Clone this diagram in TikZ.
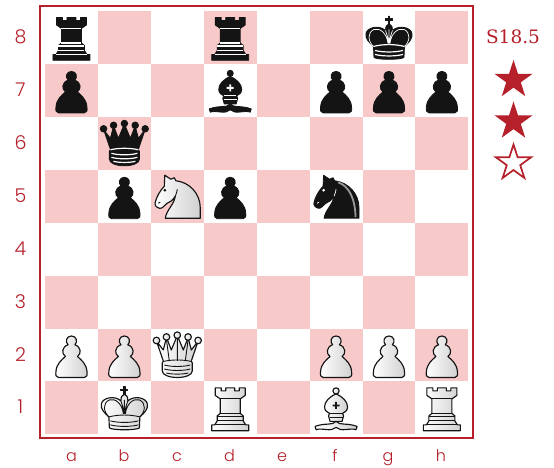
\documentclass[tikz,border=0pt]{standalone}
\usepackage{fontspec}
\usetikzlibrary{shapes.geometric}
\newfontfamily\labfont{Poppins}[UprightFont=* Light]
\newfontfamily\scorefont{DejaVu Serif}
\definecolor{framered}{HTML}{B5202A}
\definecolor{pinksq}{HTML}{F8C9C9}
\definecolor{ink}{HTML}{141414}
\tikzset{
  blackset/.style={
    pbody/.style={fill=ink,draw=ink,line width=.8pt,line join=round},
    pdetail/.style={draw=white,line width=1.2pt,line cap=butt},
    pinner/.style={draw=white,line width=.7pt},
    pqline/.style={draw=none},
    pmark/.style={fill=white},
    psheen/.style={draw=black!40,line width=1.8pt}},
  whiteset/.style={
    pbody/.style={left color=white,middle color=white,right color=black!18,draw=ink,line width=1.15pt,line join=round},
    pdetail/.style={draw=ink,line width=.9pt},
    pinner/.style={draw=ink,line width=.9pt},
    pqline/.style={draw=ink,line width=.9pt},
    pmark/.style={fill=ink},
    psheen/.style={draw=none}},
  pics/pawn/.style={code={
    \path[pbody] (-13,22.5) -- (13,22.5) .. controls (15.5,22.5) and (16,20) .. (15.5,16.5)
      .. controls (15,9) and (10,5) .. (6,1.5) .. controls (10,-1) and (10,-8) .. (3.4,-10.2)
      .. controls (6.5,-13) and (5.2,-19) .. (0,-19) .. controls (-5.2,-19) and (-6.5,-13) .. (-3.4,-10.2)
      .. controls (-10,-8) and (-10,-1) .. (-6,1.5) .. controls (-10,5) and (-15,9) .. (-15.5,16.5)
      .. controls (-16,20) and (-15.5,22.5) .. (-13,22.5) -- cycle;
  }},
  pics/rook/.style={code={
    \path[pbody] (-15,-20) -- (-9,-20) -- (-9,-17) -- (-4.5,-17) -- (-4.5,-20) -- (4.5,-20) -- (4.5,-17)
      -- (9,-17) -- (9,-20) -- (15,-20) -- (15,-12.5) -- (10,-9) -- (10,5.5) -- (13,8) -- (13,13)
      -- (15.5,17) -- (18.5,17) -- (18.5,22.8) -- (-18.5,22.8) -- (-18.5,17) -- (-15.5,17) -- (-13,13)
      -- (-13,8) -- (-10,5.5) -- (-10,-9) -- (-15,-12.5) -- cycle;
    \path[pdetail] (-10,-9) -- (10,-9) (-10,5.5) -- (10,5.5) (-13,8.5) -- (13,8.5) (-13,13) -- (13,13)
      (-15.5,17) -- (15.5,17);
  }},
  pics/knight/.style={code={
    \path[pbody] (23,22) -- (-12,22) .. controls (-11,14) and (-3,8) .. (-2,0)
      .. controls (-5,5) and (-8,6) .. (-10,7) .. controls (-13,9) and (-15,13) .. (-18,12)
      .. controls (-21,11) and (-23,9) .. (-22,6) .. controls (-21,1) and (-17,-6) .. (-13,-10)
      -- (-12.5,-21) -- (-6.5,-17) -- (-3,-18.5) -- (-1.5,-15.5)
      .. controls (12,-14) and (23,-3) .. (23,12) -- cycle;
    \path[psheen] (2,-14) .. controls (13,-10) and (19,2) .. (19.5,21);
    \path[pinner] (-2,0) .. controls (-1,-3) and (0,-5) .. (0,-7);
    \path[pmark] (-12.5,-6) circle (1.5);
    \path[pinner] (-19,7) -- (-17,6);
  }},
  pics/bishop/.style={code={
    \path[pbody] (0,-17) circle (3.1);
    \path[pbody] (0,-14) .. controls (-7,-11) and (-11.5,-6) .. (-11.5,-1)
      .. controls (-11.5,2.5) and (-9,4.5) .. (-6.5,5.5) -- (-7.5,8) -- (-6,13.5) -- (6,13.5) -- (7.5,8) -- (6.5,5.5)
      .. controls (9,4.5) and (11.5,2.5) .. (11.5,-1) .. controls (11.5,-6) and (7,-11) .. (0,-14) -- cycle;
    \path[pbody] (0,13.5) .. controls (-4,18) and (-10,14.5) .. (-21,18.5) -- (-20,21.8)
      .. controls (-14,19.5) and (-5,24.5) .. (0,19.5) .. controls (5,24.5) and (14,19.5) .. (20,21.8)
      -- (21,18.5) .. controls (10,14.5) and (4,18) .. (0,13.5) -- cycle;
    \path[pdetail] (-6,5.5) -- (6,5.5) (-6.5,9.5) -- (6.5,9.5);
    \path[pmark] (-.9,-6) rectangle (.9,1) (-3.5,-3.4) rectangle (3.5,-1.6);
  }},
  pics/queen/.style={code={
    \path[pbody] (-14,6) -- (-20.8,-13.8) -- (-14,-5) -- (-10.8,-17.5) -- (-6,-5) -- (0,-19.5) -- (6,-5)
      -- (10.8,-17.5) -- (14,-5) -- (20.8,-13.8) -- (14,6) -- (15,8) -- (15,16)
      .. controls (15,20) and (8,22.5) .. (0,22.5) .. controls (-8,22.5) and (-15,20) .. (-15,16)
      -- (-15,8) -- cycle;
    \foreach \bx/\by in {-20.8/-14.5,-10.8/-18,0/-19.8,10.8/-18,20.8/-14.5}
      \path[pbody] (\bx,\by) circle (3.3);
    \path[pqline] (-10.8,-15) -- (-8,6) (0,-17) -- (0,6) (10.8,-15) -- (8,6);
    \path[pdetail] (-14,6.5) .. controls (-6,4.5) and (6,4.5) .. (14,6.5)
      (-13,10) .. controls (-6,12) and (6,12) .. (13,10)
      (-13,14) .. controls (-6,16) and (6,16) .. (13,14)
      (-11,18) .. controls (-6,19.5) and (6,19.5) .. (11,18);
  }},
  pics/king/.style={code={
    \path[pbody] (-.6,-21.5) rectangle (.6,-12.5) (-3.5,-18.6) rectangle (3.5,-17.4);
    \path[pbody] (-15,20) .. controls (-12,22.5) and (12,22.5) .. (15,20) -- (15.5,9)
      .. controls (20,5) and (24,1) .. (23,-4) .. controls (22,-10) and (10,-13) .. (3.5,-7)
      .. controls (4,-10) and (3,-12) .. (0,-13.5) .. controls (-3,-12) and (-4,-10) .. (-3.5,-7)
      .. controls (-10,-13) and (-22,-10) .. (-23,-4) .. controls (-24,1) and (-20,5) .. (-15.5,9) -- cycle;
    \path[pinner] (0,-8) -- (0,6) (-3.5,-7) .. controls (-2,-3) and (-1,1) .. (0,6) (3.5,-7) .. controls (2,-3) and (1,1) .. (0,6)
      (-15.5,9) .. controls (-21,4) and (-22,-5) .. (-15,-8) .. controls (-9,-10) and (-2,-4) .. (-1,6)
      (15.5,9) .. controls (21,4) and (22,-5) .. (15,-8) .. controls (9,-10) and (2,-4) .. (1,6);
    \path[pdetail] (-15.5,9) .. controls (-6,6.5) and (6,6.5) .. (15.5,9)
      (-14,13) .. controls (-6,15) and (6,15) .. (14,13)
      (-14,17) .. controls (-6,19) and (6,19) .. (14,17);
  }},
  ranklabel/.style={text=framered,inner sep=0pt,font=\labfont\fontsize{19}{19}\selectfont},
  filelabel/.style={text=framered,inner sep=0pt,anchor=base,font=\labfont\fontsize{16}{16}\selectfont},
  scorelabel/.style={text=framered,inner sep=0pt,font=\scorefont\fontsize{18.5}{18.5}\selectfont},
  solidstar/.style={star,star points=5,star point ratio=2.618,minimum size=40pt,inner sep=0pt,fill=framered},
  openstar/.style={star,star points=5,star point ratio=2.618,minimum size=37pt,inner sep=0pt,fill=white,draw=framered,line width=1.7pt},
  boardframe/.style={draw=framered,line width=2pt},
}
\begin{document}
\begin{tikzpicture}[x=1pt,y=-1pt]
\useasboundingbox (0,0) rectangle (554,468);
\fill[white] (0,0) rectangle (554,468);
\def\sqs{52.92}
\foreach \c in {0,...,7}\foreach \r in {0,...,7}{
  \pgfmathtruncatemacro{\odd}{mod(\c+\r,2)}
  \ifnum\odd=1
    \fill[pinksq] ({45+\c*\sqs},{11+\r*\sqs}) rectangle ({45+(\c+1)*\sqs},{11+(\r+1)*\sqs});
  \fi
}
\draw[boardframe] (40.3,6) rectangle (472.7,438.3);
% black pieces
\foreach \pn/\px/\py in {rook/0/0,rook/3/0,king/6/0,pawn/0/1,bishop/3/1,pawn/5/1,pawn/6/1,pawn/7/1,queen/1/2,pawn/1/3,pawn/3/3,knight/5/3}
  \path ({45+(\px+.5)*\sqs},{11+(\py+.5)*\sqs}) pic[blackset] {\pn};
% white pieces
\foreach \pn/\px/\py in {knight/2/3,pawn/0/6,pawn/1/6,queen/2/6,pawn/5/6,pawn/6/6,pawn/7/6,king/1/7,rook/3/7,bishop/5/7,rook/7/7}
  \path ({45+(\px+.5)*\sqs},{11+(\py+.5)*\sqs}) pic[whiteset] {\pn};
% labels
\foreach \rk/\ry in {8/37,7/90,6/143,5/196,4/249,3/302,2/355,1/407}
  \node[ranklabel] (rank\rk) at (20.5,\ry) {\rk};
\foreach \fl/\fx in {a/71.5,b/124,c/177,d/229.5,e/282,f/335,g/388,h/441}
  \node[filelabel] (file\fl) at (\fx,461) {\fl};
\node[scorelabel] (score) at (513,37) {S18.5};
\node[solidstar] (star1) at (513.5,80) {};
\node[solidstar] (star2) at (513.5,121.5) {};
\node[openstar] (star3) at (513.5,163) {};
\end{tikzpicture}
\end{document}
